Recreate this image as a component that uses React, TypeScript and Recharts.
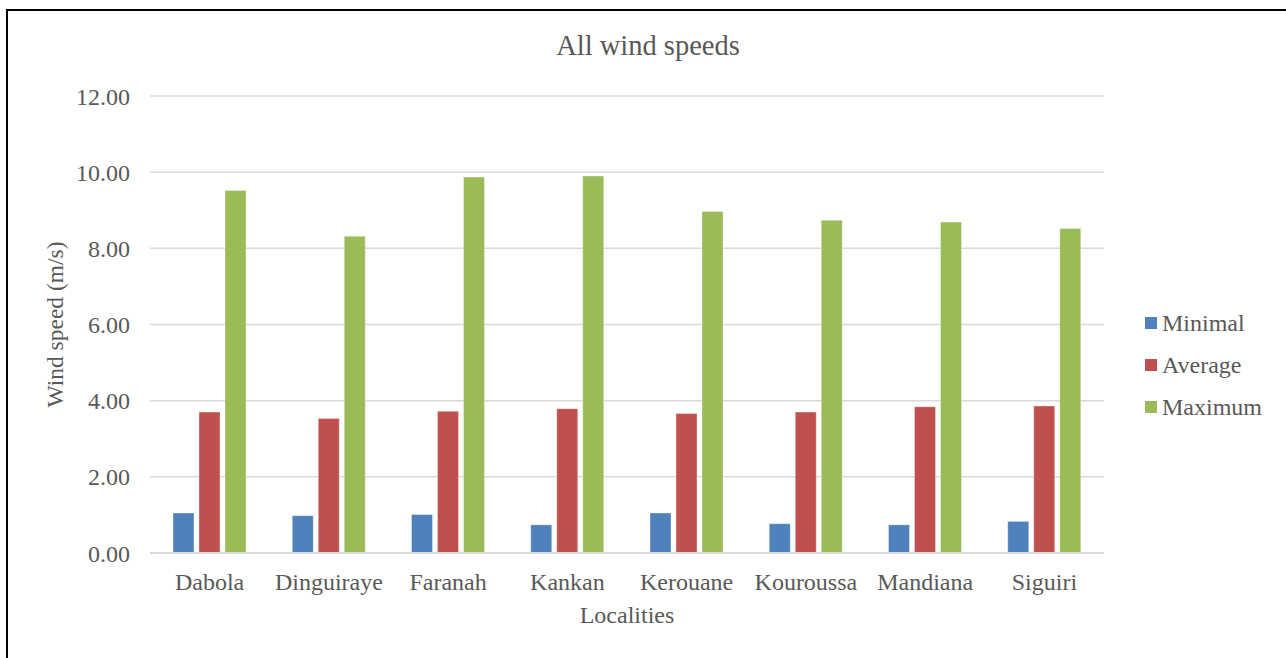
import { BarChart, Bar, XAxis, YAxis, CartesianGrid } from 'recharts';

const localities = ['Dabola', 'Dinguiraye', 'Faranah', 'Kankan', 'Kerouane', 'Kouroussa', 'Mandiana', 'Siguiri'];
const minimal = [1.05, 0.98, 1.01, 0.74, 1.05, 0.77, 0.74, 0.83];
const average = [3.7, 3.53, 3.72, 3.79, 3.66, 3.7, 3.84, 3.86];
const maximum = [9.52, 8.32, 9.87, 9.9, 8.97, 8.74, 8.69, 8.52];
const yTicks = [0, 2, 4, 6, 8, 10, 12];

const series = [
  { key: 'minimal', name: 'Minimal', color: '#4f81bd' },
  { key: 'average', name: 'Average', color: '#c0504d' },
  { key: 'maximum', name: 'Maximum', color: '#9bbb59' },
];

const data = localities.map((name, i) => ({
  name,
  minimal: minimal[i],
  average: average[i],
  maximum: maximum[i],
}));

const font = '"Liberation Serif", Tinos, "Times New Roman", Times, serif';
const textColor = '#595959';

function LegendBox() {
  return (
    <div style={{ fontFamily: font, fontSize: 24, color: textColor }}>
      {series.map((s) => (
        <div key={s.key} style={{ display: 'flex', alignItems: 'center', height: 42 }}>
          <span style={{ width: 12, height: 12, background: s.color, marginRight: 5 }} />
          <span>{s.name}</span>
        </div>
      ))}
    </div>
  );
}

export default function App() {
  return (
    <div style={{ position: 'absolute', left: 0, top: 0, width: 1286, height: 658, background: '#fff', overflow: 'hidden' }}>
      <div
        style={{
          position: 'absolute',
          left: 6,
          top: 9,
          width: 1300,
          height: 700,
          borderTop: '2px solid #000',
          borderLeft: '2px solid #000',
        }}
      />
      <div
        style={{
          position: 'absolute',
          left: 8,
          width: 1280,
          top: 30,
          textAlign: 'center',
          fontFamily: font,
          fontSize: 28.5,
          color: textColor,
        }}
      >
        All wind speeds
      </div>
      <div style={{ position: 'absolute', left: 0, top: 0 }}>
        <BarChart
          width={1286}
          height={658}
          data={data}
          margin={{ top: 96, right: 182, left: 0, bottom: 0 }}
          barSize={21}
          barGap={5}
        >
          <CartesianGrid vertical={false} stroke="#d9d9d9" strokeWidth={1.5} />
          <XAxis
            dataKey="name"
            axisLine={{ stroke: '#d9d9d9', strokeWidth: 2 }}
            tickLine={false}
            tickMargin={14}
            tick={{ fontFamily: font, fontSize: 24, fill: textColor }}
            height={105}
            label={{
              value: 'Localities',
              position: 'insideTop',
              offset: 53,
              style: { fontFamily: font, fontSize: 24, fill: textColor },
            }}
          />
          <YAxis
            width={150}
            domain={[0, 12]}
            ticks={yTicks}
            axisLine={false}
            tickLine={false}
            tickMargin={14}
            tickFormatter={(v: number) => v.toFixed(2)}
            tick={{ fontFamily: font, fontSize: 24, fill: textColor }}
            label={{
              content: ({ viewBox }: any) => {
                const cy = viewBox.y + viewBox.height / 2;
                return (
                  <text
                    x={55}
                    y={cy}
                    transform={`rotate(-90, 55, ${cy})`}
                    textAnchor="middle"
                    dominantBaseline="central"
                    style={{ fontFamily: font, fontSize: 23.5, fill: textColor }}
                  >
                    Wind speed (m/s)
                  </text>
                );
              },
            }}
          />
          {series.map((s) => (
            <Bar
              key={s.key}
              dataKey={s.key}
              name={s.name}
              fill={s.color}
              stroke="rgba(255,255,255,0.35)"
              strokeWidth={1}
              isAnimationActive={false}
            />
          ))}
        </BarChart>
      </div>
      <div style={{ position: 'absolute', left: 1145, top: 302 }}>
        <LegendBox />
      </div>
    </div>
  );
}
